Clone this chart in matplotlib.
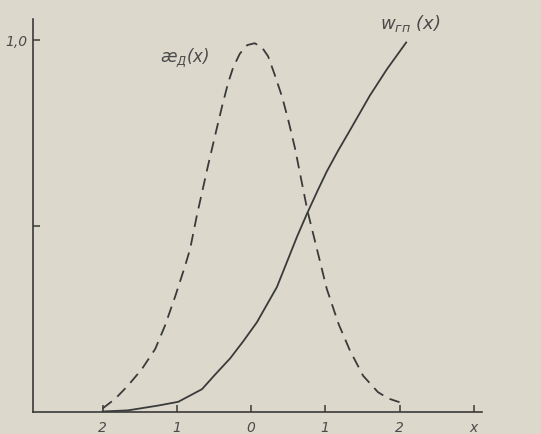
import matplotlib
matplotlib.use("Agg")
import matplotlib.pyplot as plt

# Dashed curve (æ_Д(x))
x_dash = [-2.0, -1.83, -1.66, -1.47, -1.29, -1.16, -1.02, -0.89, -0.82, -0.73, -0.58, -0.48,
          -0.39, -0.31, -0.24, -0.15, -0.05, 0.05, 0.15, 0.23, 0.32, 0.42, 0.50, 0.59, 0.67,
          0.76, 0.89, 1.02, 1.18, 1.33, 1.51, 1.71, 1.85, 2.0]
y_dash = [0.008, 0.034, 0.069, 0.114, 0.168, 0.23, 0.31, 0.39, 0.437, 0.526, 0.66, 0.745,
          0.82, 0.882, 0.925, 0.962, 0.985, 0.99, 0.978, 0.955, 0.905, 0.845, 0.785, 0.71, 0.63,
          0.54, 0.435, 0.33, 0.235, 0.165, 0.096, 0.052, 0.035, 0.025]

# Solid curve (w_гп(x))
x_solid = [-2.0, -1.66, -1.5, -1.25, -0.98, -0.66, -0.48, -0.28, -0.1, 0.08, 0.35, 0.62,
           0.75, 0.9, 1.02, 1.17, 1.33, 1.60, 1.83, 2.09]
y_solid = [0.0, 0.003, 0.008, 0.016, 0.026, 0.06, 0.10, 0.143, 0.19, 0.24, 0.335, 0.47,
           0.53, 0.595, 0.645, 0.70, 0.755, 0.849, 0.92, 0.992]

x_ticks = [-2, -1, 0, 1, 2, 3]
x_tick_labels = ["2", "1", "0", "1", "2", "x"]
y_ticks = [0.5, 1.0]
y_tick_labels = ["", "1,0"]

bg = "#dcd9cc"
ink = "#3a3a3a"
txt = "#4a4a4a"

fig = plt.figure(figsize=(5.41, 4.35), dpi=100, facecolor=bg)
W, H = 541, 435
left, right, bottom, top = 33, 482, 412.5, 20
ax = fig.add_axes([left / W, 1 - bottom / H, (right - left) / W, (bottom - top) / H])
ax.set_facecolor(bg)

ax.plot(x_dash, y_dash, color=ink, lw=1.3, dashes=(6.5, 4), solid_joinstyle="round")
ax.plot(x_solid, y_solid, color=ink, lw=1.3, solid_joinstyle="round")

ax.set_xlim((33 - 251) / 74.25, (482 - 251) / 74.25)
ax.set_ylim(0, (412.5 - 20) / 372.0)

for s in ["top", "right"]:
    ax.spines[s].set_visible(False)
for s in ["left", "bottom"]:
    ax.spines[s].set_color(ink)
    ax.spines[s].set_linewidth(1.2)

ax.set_xticks(x_ticks)
ax.set_xticklabels(x_tick_labels, fontsize=10, color=txt, style="italic")
ax.set_yticks(y_ticks)
ax.set_yticklabels(y_tick_labels, fontsize=10, color=txt, style="italic")
ax.tick_params(axis="x", direction="in", length=5, width=1.1, color=ink, pad=6)
ax.tick_params(axis="y", direction="in", length=5, width=1.1, color=ink, pad=4)

ax.text(-1.22, 0.955, "æ$_{Д}$(x)", fontsize=12, color=txt, style="italic", ha="left", va="center")
ax.text(1.74, 1.045, "w$_{гп}$ (x)", fontsize=13, color=txt, style="italic", ha="left", va="center")

fig.savefig("out.png", dpi=100, facecolor=bg)
